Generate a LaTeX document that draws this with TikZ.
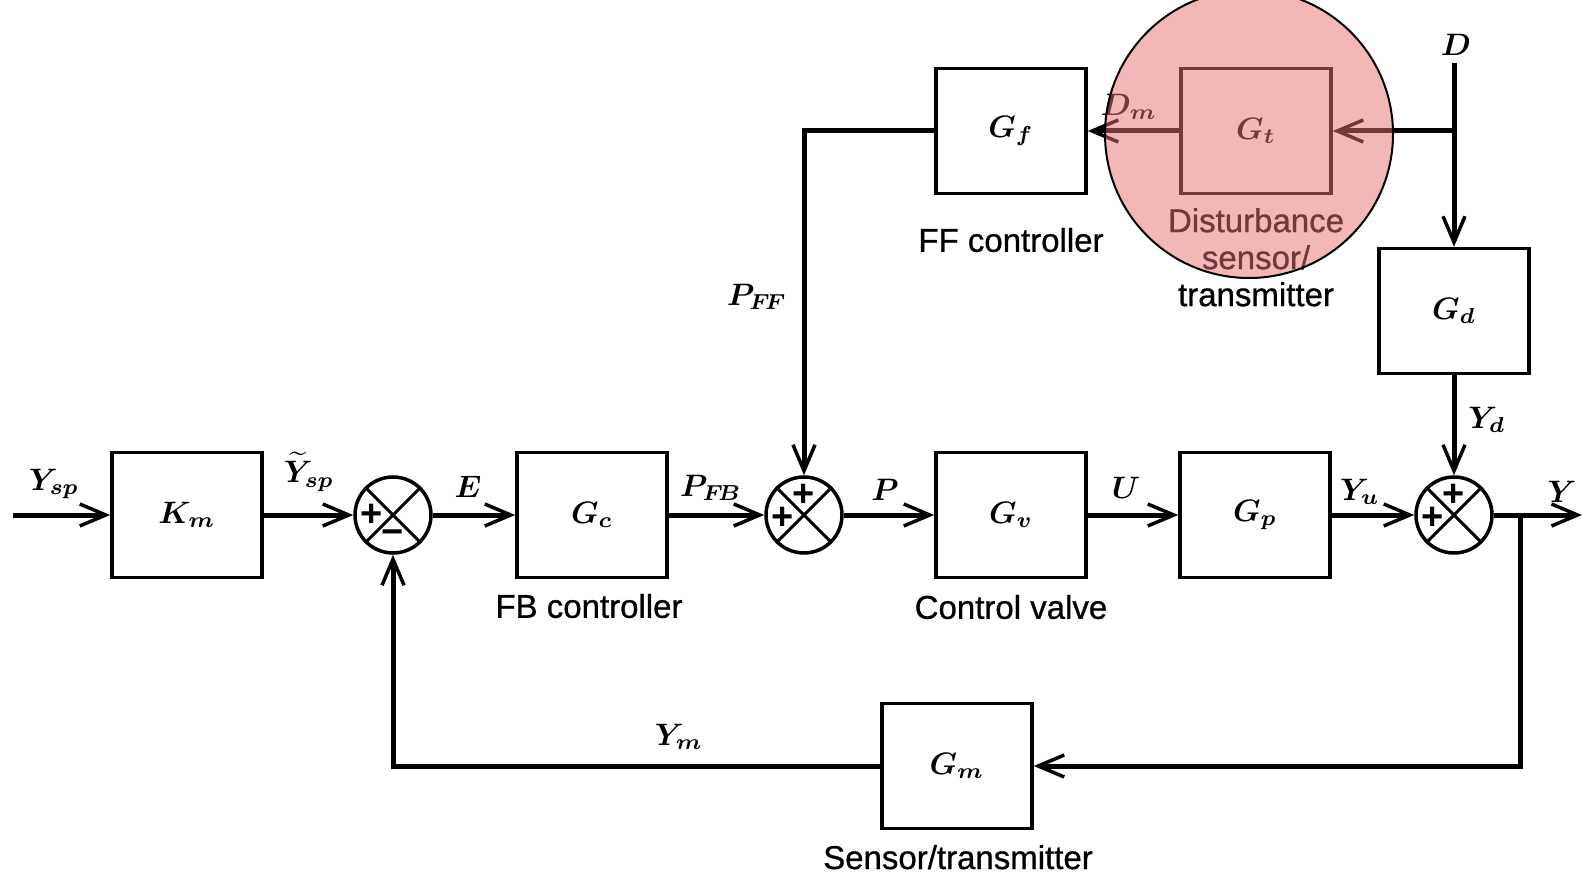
\documentclass[tikz,border=0pt]{standalone}
\usepackage{amsmath}
\usepackage{graphicx}
\usepackage{fontspec}
\setsansfont{Liberation Sans}
\newfontfamily\tfam{Liberation Sans}[BoldFont={Liberation Sans}, BoldFeatures={FakeBold=0.8}]
\usetikzlibrary{arrows.meta}
\newcommand\mth[1]{\scalebox{3.1}{\fontsize{10}{10}\selectfont\boldmath$#1$}}
\newcommand\sgnfont{\fontsize{38}{38}\selectfont\sffamily\bfseries}
\newcommand\tfont{\fontsize{33}{37}\selectfont\tfam\bfseries}
\definecolor{pinkc}{RGB}{235,112,112}
\tikzset{
  blk/.style={draw, line width=3.5pt, minimum width=150pt, minimum height=125pt, inner sep=0pt},
  sumc/.style={draw, circle, line width=3.5pt, minimum size=76pt, inner sep=0pt},
  conn/.style={line width=5pt, -{Straight Barb[length=26pt,width=22pt,line width=3.5pt]}},
  lab/.style={inner sep=0pt},
  sgnn/.style={inner sep=0pt, font=\sgnfont},
  txt/.style={font=\tfont, inner sep=0pt, align=center},
}
\begin{document}
\begin{tikzpicture}[x=1pt,y=-1pt]
\useasboundingbox (0,0) rectangle (1585,874);
\fill[white] (0,0) rectangle (1585,874);
% blocks
\node[blk] (Km) at (187,515) {\mth{K_m}};
\node[sumc] (s1) at (393,515) {};
\node[blk] (Gc) at (592,515) {\mth{G_c}};
\node[sumc] (s2) at (804,515) {};
\node[blk] (Gv) at (1011,515) {\mth{G_v}};
\node[blk] (Gp) at (1255,515) {\mth{G_p}};
\node[sumc] (s3) at (1454,515) {};
\node[blk] (Gm) at (957,766) {\mth{G_m}};
\node[blk] (Gf) at (1011,131) {\mth{G_f}};
\node[blk] (Gt) at (1256,131) {\mth{G_t}};
\node[blk] (Gd) at (1454,311) {\mth{G_d}};
% coordinates
\coordinate (in) at (13,515);
\coordinate (out) at (1582,515);
\coordinate (br) at (1520,515);
\coordinate (Dtop) at (1454,63);
\coordinate (Dj) at (1454,131);
% summing junction crosses and signs
\foreach \s in {s1,s2,s3}{
  \draw[line width=3pt] (\s.north west) -- (\s.south east);
  \draw[line width=3pt] (\s.north east) -- (\s.south west);
}
\node[sgnn] (p1) at ([xshift=-21pt]s1.center) {+};
\node[sgnn] (m1) at ([yshift=-22pt]s1.center) {−};
\node[sgnn] (p2a) at ([yshift=20pt]s2.center) {+};
\node[sgnn] (p2b) at ([xshift=-21pt,yshift=-3pt]s2.center) {+};
\node[sgnn] (p3a) at ([yshift=20pt]s3.center) {+};
\node[sgnn] (p3b) at ([xshift=-21pt,yshift=-3pt]s3.center) {+};
% connectors
\draw[conn] (in) -- (Km);
\draw[conn] (Km) -- (s1);
\draw[conn] (s1) -- (Gc);
\draw[conn] (Gc) -- (s2);
\draw[conn] (s2) -- (Gv);
\draw[conn] (Gv) -- (Gp);
\draw[conn] (Gp) -- (s3);
\draw[conn] (s3) -- (out);
\draw[conn] (br) |- (Gm.east);
\draw[conn] (Gm.west) -| (s1.south);
\draw[conn] (Dtop) -- (Gd);
\draw[conn] (Dj) -- (Gt);
\draw[conn] (Gt) -- (Gf);
\draw[conn] (Gf.west) -| (s2.north);
\draw[conn] (Gd) -- (s3);
% signal labels
\node[lab] (lYsp) at (54,484) {\mth{Y_{sp}}};
\node[lab] (lYspt) at (309,472) {\mth{\widetilde{Y}_{sp}}};
\node[lab] (lE) at (468,487) {\mth{E}};
\node[lab] (lPFB) at (711,488) {\mth{P_{F\!B}}};
\node[lab] (lP) at (885,490) {\mth{P}};
\node[lab] (lU) at (1126,488) {\mth{U}};
\node[lab] (lYu) at (1360,492) {\mth{Y_u}};
\node[lab] (lY) at (1562,492) {\mth{Y}};
\node[lab] (lYd) at (1487,420) {\mth{Y_d}};
\node[lab] (lD) at (1456,45) {\mth{D}};
\node[lab] (lDm) at (1129,107) {\mth{D_m}};
\node[lab] (lPFF) at (757,297) {\mth{P_{F\!F}}};
\node[lab] (lYm) at (679,737) {\mth{Y_m}};
% descriptive texts
\node[txt] (tFB) at (589,606) {FB controller};
\node[txt] (tCV) at (1011,607) {Control valve};
\node[txt] (tFF) at (1011,240) {FF controller};
\node[txt, anchor=north] (tDS) at (1256,208) {Disturbance\\sensor/\\transmitter};
\node[txt, anchor=base] (tST) at (958,869) {Sensor/transmitter};
% highlight overlay
\draw[line width=2pt, fill=pinkc, fill opacity=0.5] (1249,134) circle (144);
\end{tikzpicture}
\end{document}
